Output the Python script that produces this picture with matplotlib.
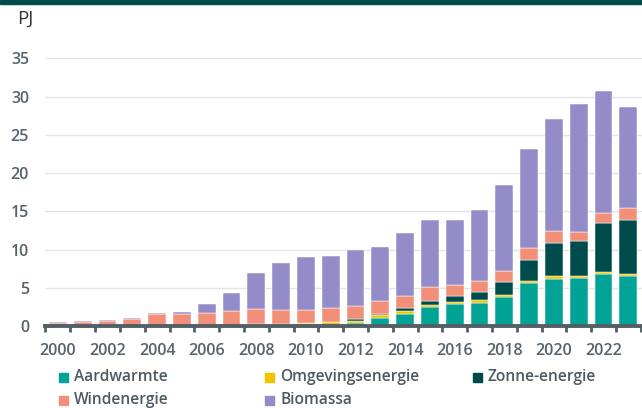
import matplotlib
matplotlib.use("Agg")
import matplotlib.pyplot as plt
from matplotlib.patches import Rectangle
import numpy as np

years = list(range(2000, 2024))
aardwarmte = [0, 0, 0, 0, 0, 0, 0, 0, 0, 0, 0.05, 0.1, 0.4, 1.1, 1.6, 2.43, 2.86, 3.04, 3.8, 5.64, 6.2, 6.3, 6.8, 6.5]
omgevingsenergie = [0, 0, 0, 0, 0, 0, 0, 0.05, 0.25, 0.3, 0.4, 0.4, 0.3, 0.3, 0.3, 0.3, 0.24, 0.3, 0.3, 0.26, 0.3, 0.3, 0.27, 0.3]
zonne_energie = [0, 0, 0, 0, 0, 0, 0, 0, 0, 0, 0, 0.05, 0.2, 0.2, 0.4, 0.6, 0.85, 1.13, 1.6, 2.7, 4.3, 4.5, 6.43, 7.1]
windenergie = [0.43, 0.52, 0.65, 0.91, 1.52, 1.6, 1.73, 1.9, 1.95, 1.8, 1.6, 1.85, 1.7, 1.65, 1.6, 1.76, 1.35, 1.43, 1.5, 1.6, 1.6, 1.2, 1.3, 1.5]
biomassa = [0.13, 0.13, 0.13, 0.13, 0.13, 0.22, 1.09, 2.35, 4.7, 6.1, 7.0, 6.8, 7.3, 7.05, 8.3, 8.8, 8.6, 9.3, 11.2, 13.0, 14.7, 16.7, 16.0, 13.3]

series_names = ["Aardwarmte", "Omgevingsenergie", "Zonne-energie", "Windenergie", "Biomassa"]
series_values = [aardwarmte, omgevingsenergie, zonne_energie, windenergie, biomassa]
colors = ["#00a395", "#f3c300", "#004b4b", "#f28f79", "#948cc8"]

y_ticks = [0, 5, 10, 15, 20, 25, 30, 35]
x_label_years = list(range(2000, 2023, 2))

text_col = "#56636b"
fig = plt.figure(figsize=(6.42, 4.08), dpi=100)
ax = fig.add_axes([45/642, (408-326)/408, 1-45/642, (326-58.4)/408])

bottom = np.zeros(len(years))
for name, vals, c in zip(series_names, series_values, colors):
    ax.bar(years, vals, width=0.72, bottom=bottom, color=c, edgecolor="#ffffff",
           linewidth=0.35, zorder=3)
    bottom += np.array(vals)

ax.set_xlim(1999.48, 2023.55)
ax.set_ylim(0, 35)
ax.set_yticks(y_ticks)
ax.set_yticklabels([str(v) for v in y_ticks])
ax.grid(axis="y", color="#e1e5e7", linewidth=1.0, zorder=0)
ax.set_axisbelow(True)
for s in ["top", "right", "left"]:
    ax.spines[s].set_visible(False)
ax.spines["bottom"].set_color("#535f66")
ax.spines["bottom"].set_linewidth(2.8)
ax.spines["bottom"].set_zorder(5)

ax.set_xticks(x_label_years)
ax.set_xticklabels([str(y) for y in x_label_years])
ax.set_xticks([y - 0.5 for y in years] + [2023.5], minor=True)
ax.tick_params(axis="x", which="major", length=0, pad=12.5, labelsize=11.5, labelcolor=text_col)
ax.tick_params(axis="x", which="minor", length=4, width=2, color="#535f66")
ax.tick_params(axis="y", length=0, pad=11.5, labelsize=11.5, labelcolor=text_col)
for lab in ax.get_xticklabels() + ax.get_yticklabels():
    lab.set_fontfamily("Open Sans")
    lab.set_fontweight("semibold")

fig.text(17/642, 1-19/408, "PJ", fontsize=13.5, color="#333333", family="Open Sans",
         va="center", ha="left")

# top band
fig.patches.append(Rectangle((0, 1-3.5/408), 1, 3.5/408, transform=fig.transFigure,
                             color="#004b4b", zorder=10))

# legend
leg_pos = [(59, 377), (265, 377), (473, 377), (59, 400), (265, 400)]
for (px, py), name, c in zip(leg_pos, series_names, colors):
    fig.patches.append(Rectangle((px/642, 1-(py+4.5)/408), 9/642, 9/408,
                                 transform=fig.transFigure, color=c))
    fig.text((px+15)/642, 1-py/408, name, fontsize=11.2, color="#4d5a62",
             family="Open Sans", fontweight="semibold", va="center", ha="left")

fig.savefig("out.png", dpi=100)
